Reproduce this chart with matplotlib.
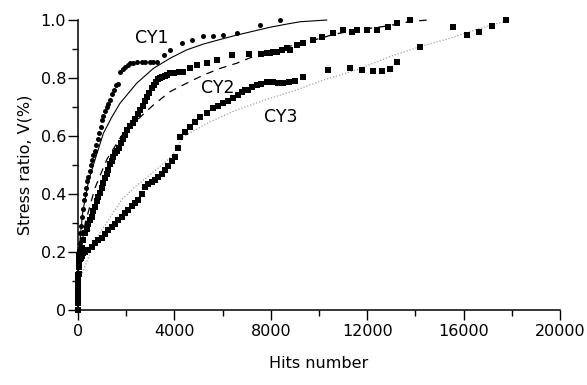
import matplotlib
matplotlib.use("Agg")
import matplotlib.pyplot as plt
from matplotlib.ticker import MultipleLocator, FuncFormatter

plt.rcParams['font.family'] = ['DejaVu Sans']

# ---- CY1 measured points (circles) ----
cy1_x = [0, 5, 10, 15, 20, 30, 40, 55, 70, 83, 110, 150, 200, 250, 290, 340, 390, 430, 480, 530, 567,
         620, 705, 760, 820, 880, 950, 1010, 1050, 1120, 1200, 1260, 1328, 1420, 1500, 1580, 1673,
         1743, 1850, 1950, 2060, 2158, 2300, 2450, 2642, 2800, 2987, 3130, 3264, 3550, 3817, 4302,
         4717, 5200, 5614, 6029, 6583, 7551, 8381]
cy1_y = [0.0, 0.03, 0.06, 0.09, 0.12, 0.15, 0.18, 0.2, 0.23, 0.264, 0.29, 0.32, 0.35, 0.38, 0.40, 0.42,
         0.445, 0.46, 0.48, 0.50, 0.517, 0.535, 0.55, 0.57, 0.59, 0.61, 0.63, 0.655, 0.67, 0.685, 0.70,
         0.71, 0.724, 0.745, 0.76, 0.775, 0.78, 0.822, 0.832, 0.839, 0.845, 0.851, 0.853, 0.855, 0.856,
         0.856, 0.856, 0.856, 0.856, 0.88, 0.897, 0.92, 0.931, 0.945, 0.945, 0.948, 0.954, 0.983, 1.0]

# ---- CY1 fitted curve (solid) ----
cy1_fit_x = [0, 20, 80, 200, 450, 750, 1051, 1400, 1743, 2434, 3126, 3817, 4509, 5200, 5900, 6583,
             7300, 7966, 8600, 9210, 10318]
cy1_fit_y = [0.0, 0.12, 0.24, 0.34, 0.45, 0.53, 0.609, 0.665, 0.713, 0.782, 0.833, 0.868, 0.897,
             0.917, 0.933, 0.948, 0.962, 0.975, 0.985, 0.994, 1.0]

# ---- CY2 measured points (squares) ----
cy2_x = [0, 5, 10, 15, 20, 30, 45, 60, 80, 110, 150, 220, 290, 360, 430, 500, 570, 640, 705, 780,
         850, 913, 980, 1050, 1120, 1190, 1260, 1330, 1400, 1466, 1540, 1620, 1700, 1780, 1860,
         1950, 2050, 2150, 2280, 2380, 2480, 2580, 2680, 2780, 2860, 2950, 3050, 3150, 3250, 3330,
         3400, 3500, 3600, 3700, 3817, 4000, 4200, 4370, 4650, 4924, 5339, 5753, 6376, 7100, 7600,
         7828, 7950, 8100, 8244, 8450, 8659, 8796, 9073, 9349, 9764, 10110, 10594, 11009, 11355,
         11563, 11978, 12393, 12876, 13223, 13776]
cy2_y = [0.0, 0.03, 0.06, 0.09, 0.12, 0.15, 0.17, 0.19, 0.2, 0.207, 0.215, 0.24, 0.264, 0.28, 0.295,
         0.31, 0.322, 0.34, 0.355, 0.375, 0.39, 0.405, 0.42, 0.437, 0.455, 0.47, 0.483, 0.505, 0.515,
         0.529, 0.54, 0.55, 0.56, 0.575, 0.59, 0.605, 0.62, 0.635, 0.645, 0.66, 0.675, 0.69, 0.705,
         0.72, 0.735, 0.75, 0.765, 0.775, 0.785, 0.795, 0.80, 0.805, 0.807, 0.81, 0.816, 0.818, 0.82,
         0.822, 0.833, 0.845, 0.851, 0.862, 0.879, 0.882, 0.884, 0.885, 0.886, 0.888, 0.891, 0.896,
         0.902, 0.897, 0.914, 0.92, 0.931, 0.943, 0.954, 0.966, 0.96, 0.966, 0.966, 0.966, 0.977,
         0.989, 1.0]

# ---- CY2 fitted curve (dashed) ----
cy2_fit_x = [0, 30, 100, 300, 700, 1200, 1800, 2450, 3100, 3817, 4509, 5200, 5892, 6583, 7274, 8000,
             8800, 9750, 10600, 11500, 12800, 13800, 14500]
cy2_fit_y = [0.0, 0.1, 0.2, 0.3, 0.42, 0.52, 0.6, 0.655, 0.705, 0.753, 0.782, 0.81, 0.833, 0.851,
             0.874, 0.89, 0.91, 0.93, 0.95, 0.965, 0.979, 0.995, 1.0]

# ---- CY3 measured points (squares) ----
cy3_x = [0, 5, 10, 15, 20, 30, 45, 60, 80, 110, 150, 220, 300, 430, 560, 700, 840, 980, 1120, 1260,
         1400, 1540, 1670, 1810, 1950, 2090, 2230, 2370, 2500, 2640, 2780, 2920, 3060, 3195, 3330,
         3470, 3610, 3750, 3890, 4025, 4130, 4232, 4440, 4647, 4850, 5062, 5340, 5614, 5820, 6029,
         6240, 6444, 6620, 6790, 6930, 7067, 7240, 7414, 7600, 7828, 8105, 8300, 8520, 8760, 9003,
         9349, 10386, 11286, 11770, 12253, 12600, 12945, 13223, 14190, 15572, 16126, 16652, 17162,
         17757]
cy3_y = [0.0, 0.025, 0.05, 0.075, 0.1, 0.125, 0.15, 0.165, 0.175, 0.18, 0.185, 0.195, 0.2, 0.207,
         0.217, 0.23, 0.24, 0.25, 0.262, 0.276, 0.285, 0.297, 0.31, 0.322, 0.333, 0.345, 0.357,
         0.37, 0.38, 0.40, 0.425, 0.435, 0.442, 0.448, 0.46, 0.47, 0.483, 0.497, 0.513, 0.529, 0.56,
         0.598, 0.615, 0.632, 0.65, 0.667, 0.68, 0.695, 0.705, 0.713, 0.72, 0.73, 0.74, 0.753,
         0.757, 0.759, 0.768, 0.776, 0.781, 0.785, 0.785, 0.784, 0.782, 0.786, 0.789, 0.805, 0.828,
         0.833, 0.828, 0.824, 0.824, 0.83, 0.856, 0.906, 0.975, 0.948, 0.957, 0.979, 1.0]

# ---- CY3 fitted curve (dotted, grey) ----
cy3_fit_x = [0, 20, 80, 290, 705, 1260, 1810, 2365, 3057, 3886, 4370, 5477, 6583, 7966, 9073, 10180,
             11563, 12945, 14190, 15434, 16680, 17646]
cy3_fit_y = [0.0, 0.06, 0.11, 0.15, 0.24, 0.31, 0.38, 0.425, 0.471, 0.529, 0.598, 0.649, 0.69, 0.73,
             0.759, 0.793, 0.828, 0.874, 0.908, 0.937, 0.971, 0.994]

# ---- annotation labels ----
curve_labels = ["CY1", "CY2", "CY3"]
label_x = [3070, 5800, 8394]
label_y = [0.937, 0.766, 0.664]

x_ticks = [0, 4000, 8000, 12000, 16000, 20000]
y_ticks = [0, 0.2, 0.4, 0.6, 0.8, 1.0]

fig = plt.figure(figsize=(5.87, 3.85), dpi=100)
ax = fig.add_axes([0.1329, 0.1948, 0.8211, 0.7532])

ax.plot(cy3_fit_x, cy3_fit_y, linestyle=(0, (1, 1.5)), color='#a0a0a0', lw=0.9, zorder=2, clip_on=False)
ax.plot(cy1_fit_x, cy1_fit_y, '-', color='black', lw=0.8, zorder=2, clip_on=False)
ax.plot(cy2_fit_x, cy2_fit_y, linestyle=(0, (6, 5)), color='black', lw=0.9, zorder=2, clip_on=False)

ax.plot(cy1_x, cy1_y, 'o', color='black', ms=3.6, mew=0, zorder=3, clip_on=False)
ax.plot(cy2_x, cy2_y, 's', color='black', ms=4.3, mew=0, zorder=3, clip_on=False)
ax.plot(cy3_x, cy3_y, 's', color='black', ms=4.3, mew=0, zorder=3, clip_on=False)

for t, lx, ly in zip(curve_labels, label_x, label_y):
    ax.text(lx, ly, t, fontsize=12.5, ha='center', va='center', color='black')

ax.set_xlim(0, 20000)
ax.set_ylim(0, 1.0)
ax.set_xticks(x_ticks)
ax.set_yticks(y_ticks)
ax.xaxis.set_minor_locator(MultipleLocator(2000))
ax.yaxis.set_minor_locator(MultipleLocator(0.1))
ax.yaxis.set_major_formatter(FuncFormatter(lambda v, p: '0' if v == 0 else f'{v:.1f}'))
ax.xaxis.set_major_formatter(FuncFormatter(lambda v, p: f'{int(v)}'))

for s in ['top', 'right']:
    ax.spines[s].set_visible(False)
for s in ['left', 'bottom']:
    ax.spines[s].set_linewidth(1.1)

ax.tick_params(axis='both', which='major', direction='out', length=7, width=1.0, labelsize=11.5)
ax.tick_params(axis='both', which='minor', direction='out', length=4, width=1.0)
ax.tick_params(axis='y', which='major', pad=1.5)
ax.tick_params(axis='x', which='major', pad=3)

ax.set_xlabel('Hits number', fontsize=11.5, labelpad=12)
ax.set_ylabel('Stress ratio, V(%)', fontsize=11.5, labelpad=6)

fig.savefig('out.png', dpi=100)
